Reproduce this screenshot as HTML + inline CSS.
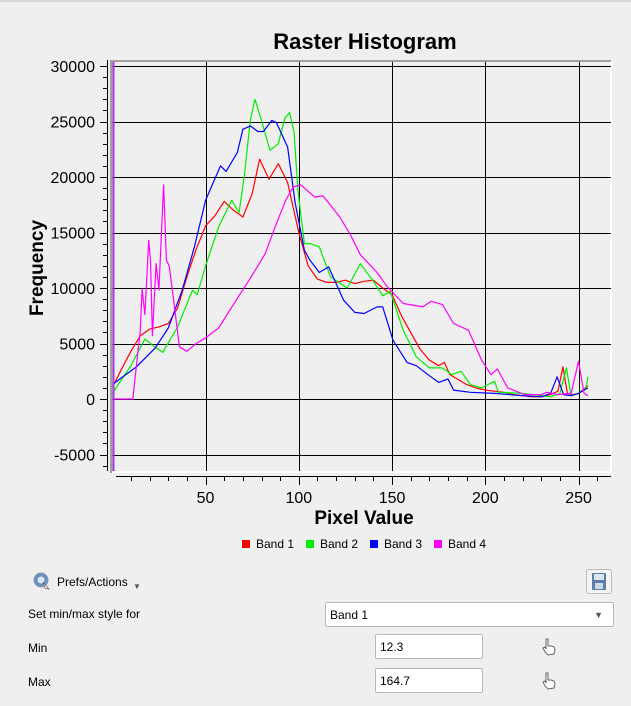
<!DOCTYPE html>
<html><head><meta charset="utf-8"><style>
body{margin:0;width:631px;height:706px;background:#efefef;font-family:"Liberation Sans",sans-serif;overflow:hidden;position:relative}
.lbl{position:absolute;font-size:12px;color:#000}
.box{position:absolute;background:#fff;border:1px solid #b8b8b8;border-radius:2px;font-size:12px;box-sizing:border-box;padding:5px 4px}
</style></head><body>
<div style="position:absolute;left:0;top:0;width:631px;height:2px;background:#d8d8d8"></div>
<svg id="chart" width="631" height="560" style="position:absolute;left:0;top:0" font-family="Liberation Sans, sans-serif"></svg>

<div style="position:absolute;left:32px;top:570px;width:115px;height:22px">
<svg width="20" height="20" style="position:absolute;left:0;top:1px"><circle cx="9" cy="9" r="7" fill="#6a8fc4" stroke="#8899aa"/><circle cx="9" cy="9" r="3.5" fill="#dbe7f5"/><path d="M11 11 L17 18 L13 17 Z" fill="#fff" stroke="#666" stroke-width="0.8"/></svg>
<span style="position:absolute;left:25px;top:5px;font-size:12px">Prefs/Actions</span>
<span style="position:absolute;left:101px;top:12px;font-size:8px;color:#555">▼</span>
</div>
<div style="position:absolute;left:586px;top:569px;width:26px;height:25px;border:1px solid #bbb;border-radius:3px;background:#f3f3f3;box-sizing:border-box">
<svg width="24" height="23"><rect x="5" y="3" width="14" height="17" rx="1" fill="#5a7fa8"/><rect x="7" y="4" width="10" height="6" fill="#dfe6ee"/><rect x="8" y="13" width="8" height="6" fill="#cfd8e2"/></svg></div>
<div class="lbl" style="left:28px;top:607px">Set min/max style for</div>
<div class="box" style="left:325px;top:602px;width:289px;height:25px">Band 1<span style="position:absolute;right:10px;top:7px;font-size:9px;color:#555">▼</span></div>
<div class="lbl" style="left:28px;top:641px">Min</div>
<div class="box" style="left:375px;top:634px;width:108px;height:25px">12.3</div>
<div class="lbl" style="left:28px;top:675px">Max</div>
<div class="box" style="left:375px;top:668px;width:108px;height:25px">164.7</div>
<svg width="18" height="20" style="position:absolute;left:540px;top:637px"><path d="M6 2 L8 2 L8 9 L11 9 L14 10 L15 13 L14 17 L8 18 L5 15 L3 11 L5 10 L6 12 Z" fill="#fff" stroke="#666" stroke-width="1"/></svg>
<svg width="18" height="20" style="position:absolute;left:540px;top:671px"><path d="M6 2 L8 2 L8 9 L11 9 L14 10 L15 13 L14 17 L8 18 L5 15 L3 11 L5 10 L6 12 Z" fill="#fff" stroke="#666" stroke-width="1"/></svg>

<script>
const xTicks=[50,100,150,200,250];
const yTicks=[-5000,0,5000,10000,15000,20000,25000,30000];
const bandNames=["Band 1","Band 2","Band 3","Band 4"];
const bandColors=["#ff0000","#00ee00","#0000ff","#ff00ff"];
const band1X=[0,5,10,15,20,25,30,35,40,45,50,55,60,65,70,75,79,84,89,94,100,105,110,115,120,125,130,135,140,145,150,155,160,165,170,175,178,181,185,190,195,200,205,210,215,220,225,230,235,239,241.6,244,247,250,255];
const band1Y=[1000,2700,4300,5700,6300,6500,6800,8200,11000,13500,15600,16500,17800,17000,16400,18500,21600,19800,21200,19500,15000,12000,10800,10500,10500,10700,10400,10600,10700,10000,9400,7500,6000,4500,3500,3000,3300,2200,1800,1300,1000,800,700,600,400,300,200,200,400,700,2900,500,400,500,1200];
const band2X=[0,10,17.5,22,27,35,43,45.5,50,57,64,68,71,74,76.5,80,84.5,89,92.5,95,97.5,99.5,103,106,111,117,126,133,140,145,149,156,163,170,177,182,187,192,198,205,207,220,230,235,240,243.5,246,250,254,255];
const band2Y=[500,3000,5400,4800,4200,6500,9800,9400,12000,15500,17900,16800,20400,25100,27000,25100,22400,23000,25300,25800,24000,18800,14000,14000,13700,11000,10000,12200,10600,9300,9700,6200,3800,2800,2800,2200,2500,1300,1000,1600,600,500,300,200,500,2800,300,500,1000,2000];
const band3X=[0,13,23,30,37.5,44,50,58,61,67,70,74,78,81,85.5,88,94,98,103,106,111,116,124,130,135,142,145,150.5,158,163,170,175,180,183,192,205,220,230,235,238.5,242,246,250,255];
const band3Y=[1300,2900,4600,6400,9800,13700,17900,21000,20500,22200,24300,24600,24100,24100,25100,24900,22700,17700,13400,12500,11400,11900,8900,7800,7700,8300,8300,5300,3300,3000,2100,1500,1800,800,600,500,300,200,500,2000,400,300,500,1000];
const band4X=[0,11,15,16,17.5,19.5,20.5,21.5,23.5,25,27.5,29,30.5,33,36,40,45,50,57,67.5,74.5,82,88,93,97,101,108.5,113,122,128,133,142,147,156,166.5,171,177,183,191,198,203,206.5,212,221,230,233,239,246,250,253,255];
const band4Y=[0,0,6200,9900,7600,14300,12500,5700,12200,9800,19300,12500,12000,8800,4700,4300,5000,5500,6400,9200,11000,13100,15800,17900,19100,19300,18200,18300,16400,14700,13000,11400,10200,8600,8300,8800,8500,6800,6200,3500,2200,2700,1000,400,400,600,400,500,3400,500,300];
const zeroSpikeX=[0.6];
const bandX=[band1X,band2X,band3X,band4X];
const bandY=[band1Y,band2Y,band3Y,band4Y];

const NS="http://www.w3.org/2000/svg";
const svg=document.getElementById('chart');
const PL=110,PT=60,PR=611,PB=471;
const X=v=>112.3+v*1.865;
const Y=v=>399-v*0.0111;
const S=v=>Math.round(v)+0.5;
function mk(tag,attrs,parent){const e=document.createElementNS(NS,tag);for(const k in attrs)e.setAttribute(k,attrs[k]);(parent||svg).appendChild(e);return e;}

const title=mk('text',{x:365,y:49,'text-anchor':'middle','font-size':22,'font-weight':'bold'});
title.textContent='Raster Histogram';



const canvas=mk('rect',{x:PL,y:PT,width:PR-PL,height:PB-PT,fill:'#efefef'});


mk('line',{x1:PR,y1:PT,x2:PR,y2:PB+1,stroke:'#fff','stroke-width':2});
mk('line',{x1:PL,y1:PB+1,x2:PR,y2:PB+1,stroke:'#fff','stroke-width':2});

const clip=mk('clipPath',{id:'pc'});mk('rect',{x:PL+2,y:PT+2,width:PR-PL-3,height:PB-PT-3},clip);
const grid=mk('g',{stroke:'#000','stroke-width':1});


xTicks.forEach(t=>{mk('line',{x1:S(X(t)),y1:PT+2,x2:S(X(t)),y2:PB},grid);});
yTicks.forEach(t=>{mk('line',{x1:PL+2,y1:S(Y(t)),x2:PR,y2:S(Y(t))},grid);});

// y axis
const ya=mk('g',{});


mk('line',{x1:107.5,y1:PT,x2:107.5,y2:PB,stroke:'#000','stroke-width':1},ya);
for(let v=-6000;v<=30000;v+=1000){const y=S(Y(v));if(y<PT||y>PB)continue;const major=v%5000===0;mk('line',{x1:major?100:103,y1:y,x2:107,y2:y,stroke:'#000'},ya);}
yTicks.forEach(t=>{const tx=mk('text',{x:95,y:Y(t)+6,'text-anchor':'end','font-size':16},ya);tx.textContent=t;

});
const yt=mk('text',{x:0,y:0,transform:'translate(43,268) rotate(-90)','text-anchor':'middle','font-size':19,'font-weight':'bold'});
yt.textContent='Frequency';



// x axis
const xa=mk('g',{});


mk('line',{x1:116,y1:476.5,x2:611,y2:476.5,stroke:'#000'},xa);
for(let v=10;v<=260;v+=10){const major=v%50===0;mk('line',{x1:S(X(v)),y1:476.5,x2:S(X(v)),y2:major?485:481,stroke:'#000'},xa);}
xTicks.forEach(t=>{const tx=mk('text',{x:X(t),y:503,'text-anchor':'middle','font-size':16},xa);tx.textContent=t;

});
const xt=mk('text',{x:364,y:524,'text-anchor':'middle','font-size':19,'font-weight':'bold'});
xt.textContent='Pixel Value';



// series
const sg=mk('g',{'clip-path':'url(#pc)'});
bandX.forEach((xs,i)=>{
  const d=xs.map((v,j)=>(j?'L':'M')+X(v).toFixed(1)+' '+Y(bandY[i][j]).toFixed(1)).join(' ');
  const p=mk('path',{d:d,fill:'none',stroke:bandColors[i],'stroke-width':1.2,'stroke-linejoin':'round'},sg);
  
  
});
zeroSpikeX.forEach(v=>{const l=mk('line',{x1:X(v),y1:PT,x2:X(v),y2:PB,stroke:'#a040d0','stroke-width':2.2});

});
mk('line',{x1:PL+1,y1:PT,x2:PL+1,y2:PB+2,stroke:'#a0a0a0','stroke-width':2});
mk('line',{x1:PL,y1:PT+1,x2:PR,y2:PT+1,stroke:'#a0a0a0','stroke-width':2});

// legend
const lg=mk('g',{});


const lx=[242,306,370,434];
bandNames.forEach((n,i)=>{
  const r=mk('rect',{x:lx[i],y:540,width:8,height:8,fill:bandColors[i]},lg);
  
  
  const t=mk('text',{x:lx[i]+14,y:548,'font-size':12},lg);t.textContent=n;
  
  
});
</script>
</body></html>
